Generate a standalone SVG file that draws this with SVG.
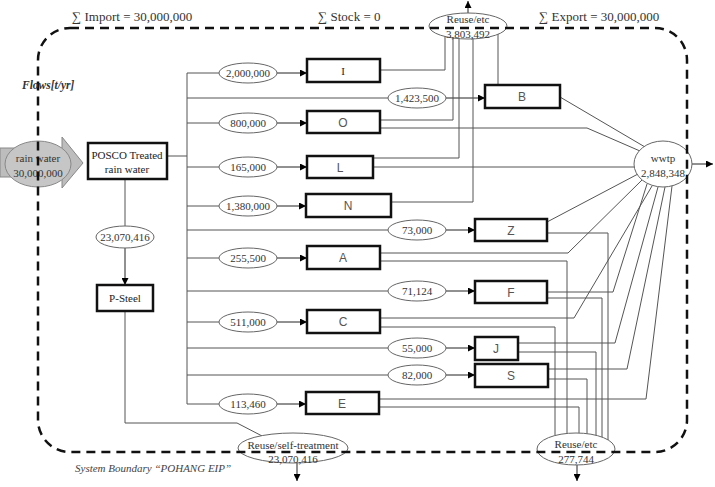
<svg xmlns="http://www.w3.org/2000/svg" width="715" height="487" viewBox="0 0 715 487">
<style>
.ln{fill:none;stroke:#555;stroke-width:1}
.ar{fill:none;stroke:#222;stroke-width:1;marker-end:url(#ah)}
.el{fill:#fff;stroke:#666;stroke-width:1}
.bx{fill:#fff;stroke:#111;stroke-width:2.5}
.num{font-family:"Liberation Serif","Times New Roman",serif;font-size:11px;fill:#333;text-anchor:middle}
.ser{font-family:"Liberation Serif","Times New Roman",serif;font-size:11px;fill:#222;text-anchor:middle}
.lbl{font-family:"Liberation Sans",Arial,sans-serif;font-size:12px;fill:#555;text-anchor:middle}
.sum{font-family:"Liberation Serif","Times New Roman",serif;font-size:13px;fill:#333}
.bnd{fill:none;stroke:#111;stroke-width:2.5;stroke-dasharray:9 6}
</style>
<defs>
<marker id="ah" viewBox="0 0 10 10" refX="10" refY="5" markerWidth="8" markerHeight="7" markerUnits="userSpaceOnUse" orient="auto"><path d="M0,0 L10,5 L0,10 z" fill="#000"/></marker>
</defs>
<rect width="715" height="487" fill="#fff"/>

<g id="connectors">
<path class="ln" d="M167,156 H187 M187,73 V404"/>
<path class="ln" d="M187,73 H219 M187,98 H388 M187,123 H219 M187,167 H219 M187,206 H219 M187,230 H388 M187,258 H219 M187,291 H388 M187,322 H219 M187,348 H388 M187,375 H388 M187,404 H219"/>
<path class="ar" d="M277,73 H307"/>
<path class="ar" d="M446,98 H485"/>
<path class="ar" d="M277,123 H307"/>
<path class="ar" d="M277,167 H307"/>
<path class="ar" d="M277,206 H306"/>
<path class="ar" d="M446,230 H475"/>
<path class="ar" d="M277,258 H307"/>
<path class="ar" d="M446,291 H475"/>
<path class="ar" d="M277,322 H307"/>
<path class="ar" d="M446,348 H475"/>
<path class="ar" d="M446,375 H475"/>
<path class="ar" d="M277,404 H306"/>
<path class="ln" d="M380,70 H445 V32 M498,85 V30 M380,120 H453 V32 M373,158 H459 V32 M391,202 H473 V32"/>
<path class="ln" d="M380,128 H587 L640,151 M373,167 H640 M560,97 L645,147 M547,222 L638,174 M380,253 H568 L642,180 M547,292 H613 L647,184 M380,318 H574 L652,186 M518,343 H615 L658,187 M548,369 H627 L665,187 M379,399 H646 L672,186"/>
<path class="ln" d="M547,233 H608 V445 M380,261 H567 V445 M547,298 H602 V445 M380,327 H555 V445 M518,352 H596 V445 M548,379 H587 V445 M379,407 H579 V445"/>
<path class="ln" d="M125,179 V226"/>
<path class="ar" d="M125,248 V285"/>
<path class="ln" d="M125,311 V423 H237 L264,437"/>
<path class="ar" d="M468,13 V1"/>
<path class="ar" d="M692,164 H713"/>
<path class="ar" d="M297,463 V481"/>
<path class="ar" d="M577,465 V481"/>
</g>

<g id="rainwater">
<polygon points="0,148 62,148 62,137 83,163 62,188 62,177 0,177" fill="#bdbdbd" stroke="#888" stroke-width="1"/>
<ellipse cx="38" cy="164" rx="33" ry="23" fill="#c6c6c6" stroke="#888" stroke-width="1"/>
<text class="num" x="38" y="162">rain water</text>
<text class="num" x="38" y="177">30,000,000</text>
</g>

<g id="posco">
<rect class="bx" x="88" y="143" width="79" height="36"/>
<text class="ser" x="127" y="159">POSCO Treated</text>
<text class="ser" x="127" y="173">rain water</text>
</g>

<g id="flow-psteel"><ellipse class="el" cx="125" cy="237" rx="29" ry="11"/><text class="num" x="125" y="241">23,070,416</text></g>
<g id="psteel"><rect class="bx" x="97" y="285" width="56" height="26"/><text class="ser" x="125" y="302">P-Steel</text></g>

<g id="flow-I"><ellipse class="el" cx="248" cy="73" rx="29" ry="10"/><text class="num" x="248" y="77">2,000,000</text></g>
<g id="node-I"><rect class="bx" x="307" y="59" width="73" height="23"/><text class="ser" x="343" y="75" font-size="12">I</text></g>

<g id="flow-B"><ellipse class="el" cx="417" cy="98" rx="29" ry="10"/><text class="num" x="417" y="102">1,423,500</text></g>
<g id="node-B"><rect class="bx" x="485" y="85" width="75" height="23"/><text class="lbl" x="522" y="101">B</text></g>

<g id="flow-O"><ellipse class="el" cx="248" cy="123" rx="29" ry="10"/><text class="num" x="248" y="127">800,000</text></g>
<g id="node-O"><rect class="bx" x="307" y="111" width="73" height="22"/><text class="lbl" x="343" y="127">O</text></g>

<g id="flow-L"><ellipse class="el" cx="248" cy="167" rx="29" ry="10"/><text class="num" x="248" y="171">165,000</text></g>
<g id="node-L"><rect class="bx" x="307" y="156" width="66" height="22"/><text class="lbl" x="340" y="172">L</text></g>

<g id="flow-N"><ellipse class="el" cx="248" cy="206" rx="29" ry="10"/><text class="num" x="248" y="210">1,380,000</text></g>
<g id="node-N"><rect class="bx" x="306" y="194" width="85" height="23"/><text class="lbl" x="348" y="210">N</text></g>

<g id="flow-Z"><ellipse class="el" cx="417" cy="230" rx="29" ry="10"/><text class="num" x="417" y="234">73,000</text></g>
<g id="node-Z"><rect class="bx" x="475" y="219" width="72" height="22"/><text class="lbl" x="511" y="235">Z</text></g>

<g id="flow-A"><ellipse class="el" cx="248" cy="258" rx="29" ry="10"/><text class="num" x="248" y="262">255,500</text></g>
<g id="node-A"><rect class="bx" x="307" y="246" width="73" height="23"/><text class="lbl" x="343" y="262">A</text></g>

<g id="flow-F"><ellipse class="el" cx="417" cy="291" rx="29" ry="10"/><text class="num" x="417" y="295">71,124</text></g>
<g id="node-F"><rect class="bx" x="475" y="281" width="72" height="22"/><text class="lbl" x="511" y="297">F</text></g>

<g id="flow-C"><ellipse class="el" cx="248" cy="322" rx="29" ry="10"/><text class="num" x="248" y="326">511,000</text></g>
<g id="node-C"><rect class="bx" x="307" y="310" width="73" height="23"/><text class="lbl" x="343" y="326">C</text></g>

<g id="flow-J"><ellipse class="el" cx="417" cy="348" rx="29" ry="10"/><text class="num" x="417" y="352">55,000</text></g>
<g id="node-J"><rect class="bx" x="475" y="337" width="43" height="23"/><text class="lbl" x="496" y="353">J</text></g>

<g id="flow-S"><ellipse class="el" cx="417" cy="375" rx="29" ry="10"/><text class="num" x="417" y="379">82,000</text></g>
<g id="node-S"><rect class="bx" x="475" y="364" width="73" height="23"/><text class="lbl" x="511" y="380">S</text></g>

<g id="flow-E"><ellipse class="el" cx="248" cy="404" rx="29" ry="10"/><text class="num" x="248" y="408">113,460</text></g>
<g id="node-E"><rect class="bx" x="306" y="392" width="73" height="22"/><text class="lbl" x="342" y="408">E</text></g>

<g id="wwtp"><ellipse class="el" cx="663" cy="164" rx="29" ry="23"/><text class="num" x="663" y="162">wwtp</text><text class="num" x="663" y="177">2,848,348</text></g>

<g id="reuse-top"><ellipse class="el" cx="468" cy="26" rx="39" ry="13"/><text class="num" x="468" y="23">Reuse/etc</text><text class="num" x="468" y="38">3,803,492</text></g>

<g id="reuse-self"><ellipse class="el" cx="293" cy="448" rx="55" ry="15"/><text class="num" x="293" y="449">Reuse/self-treatment</text><text class="num" x="293" y="463">23,070,416</text></g>

<g id="reuse-bottom"><ellipse class="el" cx="576" cy="449" rx="39" ry="16"/><text class="num" x="576" y="448">Reuse/etc</text><text class="num" x="576" y="463">277,744</text></g>

<g id="boundary">
<rect class="bnd" x="38" y="28" width="649" height="424" rx="32" ry="32"/>
</g>

<text class="sum" x="72" y="21">∑ Import = 30,000,000</text>
<text class="sum" x="318" y="21">∑ Stock = 0</text>
<text class="sum" x="539" y="21">∑ Export = 30,000,000</text>
<text x="22" y="89" font-family="Liberation Serif, serif" font-size="11.5" font-weight="bold" font-style="italic" fill="#333">Flows[t/yr]</text>
<text x="75" y="472" font-family="Liberation Serif, serif" font-size="11" font-style="italic" fill="#444">System Boundary “POHANG EIP”</text>
</svg>
